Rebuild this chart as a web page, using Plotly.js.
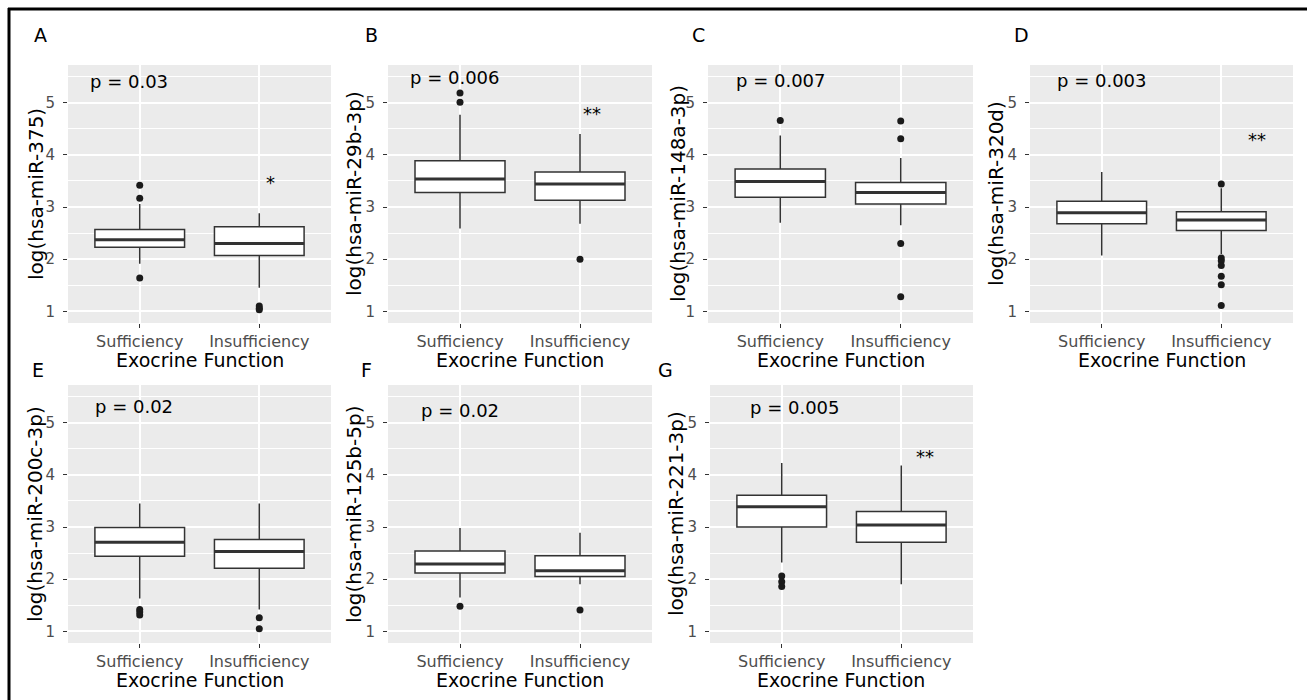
<!DOCTYPE html>
<html>
<head>
<meta charset="utf-8">
<script src="https://cdn.plot.ly/plotly-3.0.1.min.js"></script>
<style>html,body{margin:0;padding:0;background:#fff;}#chart{width:1307px;height:700px;}</style>
</head>
<body>
<div id="chart"></div>
<script>
// ---------------- DATA ----------------
const groups = ['Sufficiency', 'Insufficiency'];
const panelLetters = ['A', 'B', 'C', 'D', 'E', 'F', 'G'];
const yTitles = ['log(hsa-miR-375)', 'log(hsa-miR-29b-3p)', 'log(hsa-miR-148a-3p)', 'log(hsa-miR-320d)',
                 'log(hsa-miR-200c-3p)', 'log(hsa-miR-125b-5p)', 'log(hsa-miR-221-3p)'];
const xTitle = 'Exocrine Function';
const pLabels = ['p = 0.03', 'p = 0.006', 'p = 0.007', 'p = 0.003', 'p = 0.02', 'p = 0.02', 'p = 0.005'];
const starLabels = ['*', '**', '', '**', '', '', '**'];
const yTickVals = [1, 2, 3, 4, 5];

// box statistics per panel: [Sufficiency, Insufficiency]
const whiskerLow  = [[1.91, 1.45], [2.59, 2.68], [2.70, 2.65], [2.07, 2.10], [1.63, 1.42], [1.65, 1.90], [2.32, 1.90]];
const q1          = [[2.23, 2.07], [3.28, 3.13], [3.19, 3.06], [2.68, 2.55], [2.44, 2.21], [2.12, 2.05], [3.00, 2.71]];
const median      = [[2.37, 2.30], [3.54, 3.44], [3.49, 3.28], [2.89, 2.75], [2.71, 2.53], [2.29, 2.16], [3.39, 3.04]];
const q3          = [[2.57, 2.62], [3.89, 3.67], [3.73, 3.47], [3.11, 2.91], [2.99, 2.76], [2.54, 2.45], [3.61, 3.30]];
const whiskerHigh = [[3.06, 2.88], [4.77, 4.40], [4.37, 3.94], [3.67, 3.36], [3.45, 3.45], [2.98, 2.89], [4.23, 4.18]];
const outliersSufficiency   = [[3.42, 3.17, 1.64], [5.19, 5.01], [4.66], [], [1.42, 1.37, 1.31], [1.48], [2.06, 1.95, 1.86]];
const outliersInsufficiency = [[1.10, 1.06, 1.03], [2.00], [4.65, 4.31, 2.30, 1.28], [3.44, 2.02, 1.97, 1.88, 1.67, 1.51, 1.11], [1.26, 1.05], [1.41], []];

// ---------------- LAYOUT (positions / styles) ----------------
const W = 1307, H = 700;
const FONT = 'DejaVu Sans';
const panelBoxes = [ // pixel extents of each grey panel [x0,x1,y0,y1]
  [68, 331, 65, 323], [388, 652, 65, 323], [708, 973, 65, 323], [1030, 1293, 65, 323],
  [68, 331, 385, 643], [388, 652, 385, 643], [710, 973, 385, 643]
];
const letterPx = [[40, 35], [371, 35], [698, 35], [1021, 35], [38, 370], [366, 370], [665, 370]];
const yTitlePx = [36, 354, 678, 996, 35, 354, 676];
const pPos = [[-0.09, 5.40], [-0.05, 5.48], [0, 5.43], [0, 5.43], [-0.05, 5.32], [0, 5.23], [0.11, 5.29]];
const starPos = [[1.09, 3.47], [1.1, 4.80], null, [1.3, 4.29], null, null, [1.2, 4.35]];
const yRange = [0.775, 5.725];
const boxWidth = 0.75;

const px = v => v / W;
const py = v => 1 - v / H;

const traces = [];
const layout = {
  width: W, height: H, autosize: false,
  margin: {l: 0, r: 0, t: 0, b: 0},
  paper_bgcolor: '#ffffff',
  plot_bgcolor: '#ebebeb',
  showlegend: false,
  font: {family: FONT, color: '#000'},
  annotations: [],
  shapes: [
    {type: 'line', xref: 'paper', yref: 'paper', x0: px(9), x1: px(9), y0: py(8), y1: py(700), line: {color: '#000', width: 3}},
    {type: 'line', xref: 'paper', yref: 'paper', x0: px(8), x1: px(1307), y0: py(9), y1: py(9), line: {color: '#000', width: 3}}
  ]
};

panelLetters.forEach((letter, i) => {
  const n = i + 1;
  const xa = 'x' + (n === 1 ? '' : n), ya = 'y' + (n === 1 ? '' : n);
  const xaKey = 'xaxis' + (n === 1 ? '' : n), yaKey = 'yaxis' + (n === 1 ? '' : n);
  const [x0, x1, y0, y1] = panelBoxes[i];

  layout[xaKey] = {
    domain: [px(x0), px(x1)], anchor: ya, range: [-0.6, 1.6],
    tickmode: 'array', tickvals: [0, 1], ticktext: groups,
    ticks: 'outside', ticklen: 4, tickwidth: 1, tickcolor: '#333333',
    tickfont: {family: FONT, size: 16, color: '#4d4d4d'},
    showgrid: true, gridcolor: '#ffffff', gridwidth: 2,
    zeroline: false, showline: false, fixedrange: true
  };
  layout[yaKey] = {
    domain: [py(y1), py(y0)], anchor: xa, range: yRange,
    tickmode: 'array', tickvals: yTickVals,
    ticks: 'outside', ticklen: 4, tickwidth: 1, tickcolor: '#333333',
    ticklabelstandoff: 5,
    tickfont: {family: FONT, size: 15, color: '#4d4d4d'},
    showgrid: true, gridcolor: '#ffffff', gridwidth: 2,
    minor: {tick0: 0.5, dtick: 1, showgrid: true, gridcolor: '#ffffff', gridwidth: 1},
    zeroline: false, showline: false, fixedrange: true
  };

  traces.push({
    type: 'box', xaxis: xa, yaxis: ya,
    x: [0, 1],
    q1: q1[i], median: median[i], q3: q3[i],
    lowerfence: whiskerLow[i], upperfence: whiskerHigh[i],
    boxpoints: false, width: boxWidth, whiskerwidth: 0,
    fillcolor: '#ffffff', line: {color: '#333333', width: 1.5},
    hoverinfo: 'skip'
  });
  // thicker median bar (ggplot style)
  groups.forEach((g, gi) => {
    traces.push({
      type: 'scatter', mode: 'lines', xaxis: xa, yaxis: ya,
      x: [gi - boxWidth / 2, gi + boxWidth / 2], y: [median[i][gi], median[i][gi]],
      line: {color: '#333333', width: 3}, hoverinfo: 'skip'
    });
  });
  const outs = [outliersSufficiency[i], outliersInsufficiency[i]];
  outs.forEach((arr, gi) => {
    if (!arr.length) return;
    traces.push({
      type: 'scatter', mode: 'markers', xaxis: xa, yaxis: ya,
      x: arr.map(() => gi), y: arr,
      marker: {color: '#1a1a1a', size: 7}, hoverinfo: 'skip'
    });
  });

  // annotations
  layout.annotations.push({
    xref: xa, yref: ya, x: pPos[i][0], y: pPos[i][1], text: pLabels[i], showarrow: false,
    xanchor: 'center', yanchor: 'middle', font: {family: FONT, size: 18, color: '#000'}
  });
  if (starLabels[i]) {
    layout.annotations.push({
      xref: xa, yref: ya, x: starPos[i][0], y: starPos[i][1], text: starLabels[i], showarrow: false,
      xanchor: 'center', yanchor: 'middle', font: {family: FONT, size: 18, color: '#000'}
    });
  }
  layout.annotations.push({
    xref: 'paper', yref: 'paper', x: px(letterPx[i][0]), y: py(letterPx[i][1]), text: letter, showarrow: false,
    xanchor: 'center', yanchor: 'middle', font: {family: FONT, size: 19, color: '#000'}
  });
  layout.annotations.push({
    xref: 'paper', yref: 'paper', x: px(yTitlePx[i]), y: py((y0 + y1) / 2), text: yTitles[i], showarrow: false,
    textangle: -90, xanchor: 'center', yanchor: 'middle', font: {family: FONT, size: 20, color: '#000'}
  });
  layout.annotations.push({
    xref: 'paper', yref: 'paper', x: px((x0 + x1) / 2), y: py(y1 + 37), text: xTitle, showarrow: false,
    xanchor: 'center', yanchor: 'middle', font: {family: FONT, size: 19, color: '#000'}
  });
});

Plotly.newPlot('chart', traces, layout, {staticPlot: true, displayModeBar: false});
</script>
</body>
</html>
